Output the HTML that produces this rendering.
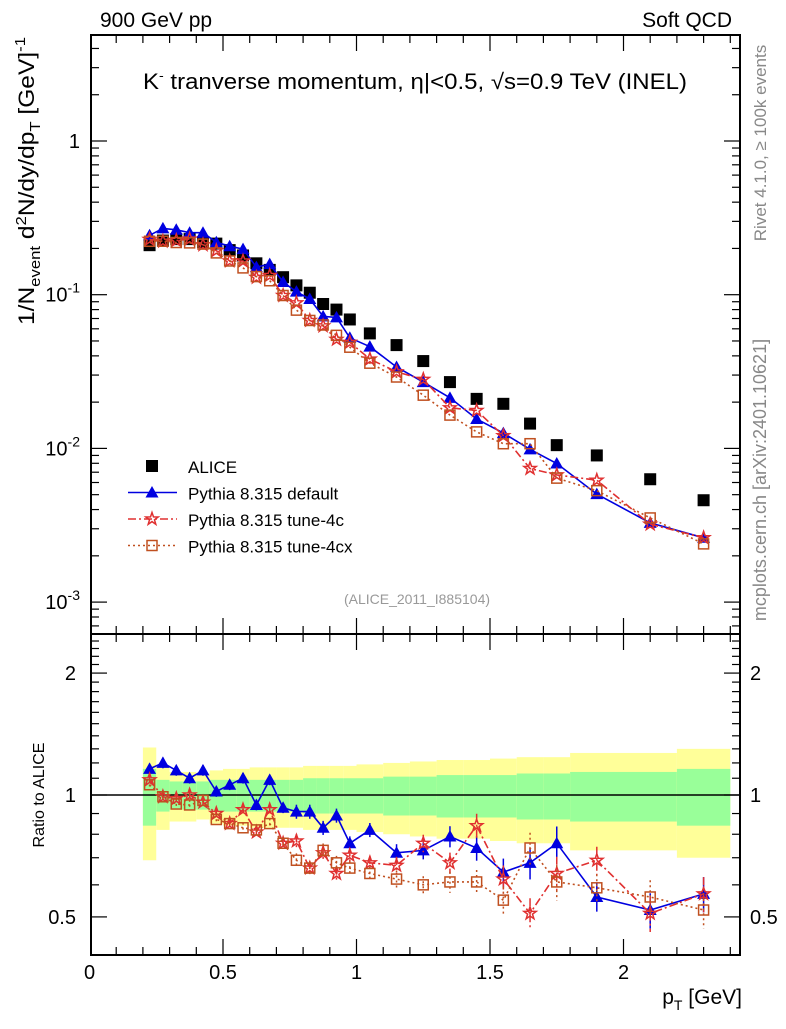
<!DOCTYPE html>
<html><head><meta charset="utf-8"><style>
body{margin:0;background:#fff}
svg{font-family:"Liberation Sans",sans-serif}
</style></head><body>
<svg id="c" width="786" height="1024" viewBox="0 0 786 1024" xmlns="http://www.w3.org/2000/svg">
<rect width="786" height="1024" fill="#fff"/>
<g id="bands"></g><g id="grid"></g><g id="marks"></g>
<text x="100" y="27" font-size="21">900 GeV pp</text>
<text x="732" y="27" font-size="21" text-anchor="end">Soft QCD</text>
<text x="143" y="89" font-size="22" textLength="544" lengthAdjust="spacingAndGlyphs">K<tspan dy="-9" font-size="13">-</tspan><tspan dy="9"> tranverse momentum, </tspan>η|&lt;0.5, √s=0.9 TeV (INEL)</text>
<text transform="translate(34,325) rotate(-90)" font-size="22" text-anchor="start" textLength="288" lengthAdjust="spacingAndGlyphs">1/N<tspan dy="6" font-size="15">event</tspan><tspan dy="-6"> d</tspan><tspan dy="-8" font-size="15">2</tspan><tspan dy="8">N/dy/dp</tspan><tspan dy="6" font-size="15">T</tspan><tspan dy="-6"> [GeV]</tspan><tspan dy="-9" font-size="15">-1</tspan></text>
<text transform="translate(44,795) rotate(-90)" font-size="16" text-anchor="middle">Ratio to ALICE</text>
<text transform="translate(766,143) rotate(-90)" font-size="17" fill="#888" text-anchor="middle">Rivet 4.1.0, ≥ 100k events</text>
<text transform="translate(766,480) rotate(-90)" font-size="18" fill="#888" text-anchor="middle">mcplots.cern.ch [arXiv:2401.10621]</text>
<text x="417" y="604" font-size="14" fill="#999" text-anchor="middle">(ALICE_2011_I885104)</text>
<text x="742" y="1004" font-size="21" text-anchor="end">p<tspan dy="6" font-size="14">T</tspan><tspan dy="-6"> [GeV]</tspan></text>
<g id="legend"></g>
</svg>
<script>
const ptBins=[0.2,0.25,0.3,0.35,0.4,0.45,0.5,0.55,0.6,0.65,0.7,0.75,0.8,0.85,0.9,0.95,1.0,1.1,1.2,1.3,1.4,1.5,1.6,1.7,1.8,2.0,2.2,2.4];
const aliceVals=[0.21,0.225,0.23,0.23,0.22,0.215,0.195,0.18,0.16,0.145,0.13,0.115,0.103,0.087,0.08,0.069,0.056,0.047,0.037,0.027,0.021,0.0195,0.0145,0.0105,0.009,0.0063,0.0046];
const aliceTotErr=[0.31,0.18,0.14,0.14,0.13,0.15,0.16,0.16,0.17,0.17,0.17,0.17,0.18,0.18,0.18,0.18,0.19,0.20,0.21,0.22,0.22,0.23,0.24,0.24,0.27,0.27,0.30];
const aliceStatErr=[0.16,0.09,0.08,0.08,0.08,0.09,0.09,0.09,0.09,0.09,0.09,0.09,0.10,0.10,0.10,0.10,0.10,0.11,0.11,0.12,0.12,0.12,0.13,0.13,0.14,0.14,0.16];
const ratioDefault=[1.16,1.20,1.15,1.10,1.15,1.02,1.06,1.10,0.945,1.09,0.93,0.91,0.91,0.83,0.89,0.76,0.82,0.72,0.73,0.79,0.74,0.645,0.68,0.76,0.56,0.52,0.57];
const ratio4c=[1.09,0.99,0.98,1.0,0.96,0.90,0.85,0.92,0.81,0.92,0.76,0.77,0.66,0.72,0.64,0.71,0.68,0.67,0.76,0.68,0.84,0.62,0.51,0.64,0.69,0.51,0.57];
const ratio4cx=[1.06,0.99,0.95,0.945,0.97,0.87,0.85,0.83,0.82,0.85,0.76,0.69,0.66,0.73,0.68,0.66,0.64,0.62,0.60,0.61,0.61,0.55,0.74,0.61,0.59,0.56,0.52];
const mcErr=[0.03,0.03,0.03,0.03,0.03,0.03,0.03,0.03,0.03,0.03,0.03,0.04,0.04,0.04,0.04,0.04,0.04,0.05,0.05,0.06,0.07,0.08,0.09,0.1,0.08,0.1,0.1];
const mainTicks=[1,0.1,0.01,0.001];
const mainTickLabels=["1","10^-1","10^-2","10^-3"];
const ratioTicks=[0.5,1,2];
const xTicks=[0,0.5,1,1.5,2];

const NS="http://www.w3.org/2000/svg";
const L=91,R=740,T=35,M=634,B=955;
const X=v=>89.5+267*v;
const Y=v=>141-153.7*Math.log10(v);
const YR=v=>795-405*Math.log10(v);
function el(tag,attrs,parent){const e=document.createElementNS(NS,tag);for(const k in attrs)e.setAttribute(k,attrs[k]);parent.appendChild(e);return e;}
const bands=document.getElementById('bands'),grid=document.getElementById('grid'),marks=document.getElementById('marks');
const mid=i=>(ptBins[i]+ptBins[i+1])/2;
aliceVals.forEach((v,i)=>{
  const x0=X(ptBins[i]),x1=X(ptBins[i+1]);
  let r=el('rect',{x:x0,y:YR(1+aliceTotErr[i]),width:x1-x0,height:YR(1-aliceTotErr[i])-YR(1+aliceTotErr[i]),fill:'#ffff99'},bands);
  
  
  let g=el('rect',{x:x0,y:YR(1+aliceStatErr[i]),width:x1-x0,height:YR(1-aliceStatErr[i])-YR(1+aliceStatErr[i]),fill:'#99ff99'},bands);
  
  
});
[[T,M],[M,B]].forEach(([t,b])=>el('rect',{x:L,y:t,width:R-L,height:b-t,fill:'none',stroke:'#000','stroke-width':2},grid));
el('line',{x1:L,x2:R,y1:YR(1),y2:YR(1),stroke:'#000','stroke-width':1.5},grid);
for(let k=1;k<=24;k++){const v=k/10,x=X(v);const maj=k%5==0;const len=maj?16:8;
  [[T,T+len],[M,M-len],[M,M+len],[B,B-len]].forEach(([a,b])=>el('line',{x1:x,x2:x,y1:a,y2:b,stroke:'#000','stroke-width':1.2},grid));}
xTicks.forEach(v=>{const t=el('text',{x:X(v),y:979,'font-size':20,'text-anchor':'middle'},grid);t.textContent=String(v);
  
  });
for(let d=-4;d<=0;d++)for(let m=1;m<=9;m++){const v=m*Math.pow(10,d),y=Y(v);if(y<T||y>M)continue;const len=m==1?16:8;
  el('line',{x1:L,x2:L+len,y1:y,y2:y,stroke:'#000','stroke-width':1.2},grid);el('line',{x1:R,x2:R-len,y1:y,y2:y,stroke:'#000','stroke-width':1.2},grid);}
mainTicks.forEach((v,i)=>{const p=mainTickLabels[i].split('^');const t=el('text',{x:80,y:Y(v)+7,'font-size':20,'text-anchor':'end'},grid);
  if(p.length>1){const a=el('tspan',{},t);a.textContent=p[0];const s=el('tspan',{dy:-9,'font-size':14},t);s.textContent=p[1];}
  else t.textContent=p[0];
  
  });
for(let k=4;k<=25;k++){const v=k/10,y=YR(v);if(y<M||y>B)continue;const maj=(k==5||k==10||k==20);const len=maj?16:8;
  el('line',{x1:L,x2:L+len,y1:y,y2:y,stroke:'#000','stroke-width':1.2},grid);el('line',{x1:R,x2:R-len,y1:y,y2:y,stroke:'#000','stroke-width':1.2},grid);}
ratioTicks.forEach(v=>{[[76,'end'],[750,'start']].forEach(([x,a])=>{const t=el('text',{x:x,y:YR(v)+7,'font-size':20,'text-anchor':a},grid);t.textContent=String(v);
  
  });});
function marker(type,x,y,col,parent){
  if(type=='sq') return el('rect',{x:x-6,y:y-6,width:12,height:12,fill:'#000'},parent);
  if(type=='tri') return el('polygon',{points:`${x},${y-6.5} ${x-6.5},${y+5} ${x+6.5},${y+5}`,fill:col},parent);
  if(type=='star'){let p=[];for(let i=0;i<10;i++){const r=i%2?2.6:6.5,a=-Math.PI/2+i*Math.PI/5;p.push((x+r*Math.cos(a)).toFixed(1)+','+(y+r*Math.sin(a)).toFixed(1));}
    return el('polygon',{points:p.join(' '),fill:'none',stroke:col,'stroke-width':1.5},parent);}
  return el('rect',{x:x-5,y:y-5,width:10,height:10,fill:'none',stroke:col,'stroke-width':1.5},parent);
}
aliceVals.forEach((v,i)=>{const m=marker('sq',X(mid(i)),Y(v),'#000',marks);
  
  });
const series=[
 {r:ratioDefault,col:'#0000e0',type:'tri',dash:'',name:'pythia-default'},
 {r:ratio4c,col:'#e03030',type:'star',dash:'8,3,2,3',name:'pythia-tune-4c'},
 {r:ratio4cx,col:'#c05020',type:'box',dash:'2,3',name:'pythia-tune-4cx'}];
series.forEach(s=>{
  const pm=s.r.map((r,i)=>X(mid(i)).toFixed(1)+','+Y(r*aliceVals[i]).toFixed(1)).join(' ');
  const pr=s.r.map((r,i)=>X(mid(i)).toFixed(1)+','+YR(r).toFixed(1)).join(' ');
  [pm,pr].forEach((pts,j)=>{const l=el('polyline',{points:pts,fill:'none',stroke:s.col,'stroke-width':1.6,'stroke-dasharray':s.dash},marks);
    
    });
  s.r.forEach((r,i)=>{const x=X(mid(i));
    const e=el('line',{x1:x,x2:x,y1:YR(r*(1+mcErr[i])),y2:YR(r*(1-mcErr[i])),stroke:s.col,'stroke-width':1.5,'stroke-dasharray':s.dash},marks);
    
    
    const a=marker(s.type,x,Y(r*aliceVals[i]),s.col,marks);
    
    
    const b=marker(s.type,x,YR(r),s.col,marks);
    
    });
});
const lg=document.getElementById('legend');
const lab=['ALICE','Pythia 8.315 default','Pythia 8.315 tune-4c','Pythia 8.315 tune-4cx'];
lab.forEach((t,i)=>{const y=466+i*26.5;
  if(i==0) marker('sq',152,y,'#000',lg);
  else{const s=series[i-1];el('line',{x1:128,x2:177,y1:y,y2:y,stroke:s.col,'stroke-width':1.6,'stroke-dasharray':s.dash},lg);marker(s.type,152,y,s.col,lg);}
  const tx=el('text',{x:188,y:y+7,'font-size':17},lg);tx.textContent=t;
  
  });
</script>
</body></html>
